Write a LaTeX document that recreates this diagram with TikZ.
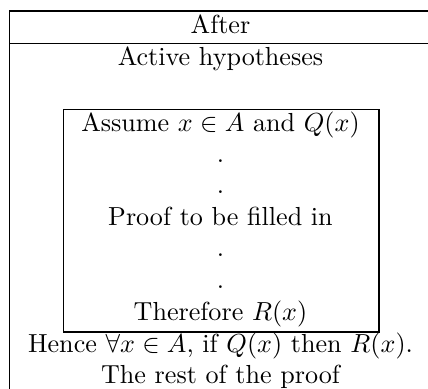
\documentclass[tikz,border=0pt]{standalone}
\begin{document}
\begin{tikzpicture}[x=0.3831pt,y=-0.3831pt,
  txt/.style={anchor=base,inner sep=0pt,font=\fontsize{10}{12}\selectfont},
  rule/.style={line width=0.4pt,draw=black}]
\useasboundingbox (0,0) rectangle (428,389);
% outer table
\draw[rule] (9.5,11) -- (430,11);
\draw[rule] (9.5,43.3) -- (430,43.3);
\draw[rule] (9.5,11) -- (9.5,392);
% inner box
\draw[rule] (63.3,109.3) rectangle (379,332);
% texts
\node[txt] (after) at (220.5,33.5) {After};
\node[txt] (active) at (220.5,65.5) {Active hypotheses};
\node[txt] (assume) at (220.5,131.7) {Assume $x\in A$ and $Q(x)$};
\node[txt] (d1) at (220.5,163) {.};
\node[txt] (d2) at (220.5,194) {.};
\node[txt] (proof) at (220.5,225.5) {Proof to be filled in};
\node[txt] (d3) at (220.5,257) {.};
\node[txt] (d4) at (220.5,288.5) {.};
\node[txt] (therefore) at (220.5,320.5) {Therefore $R(x)$};
\node[txt] (hence) at (220.5,352.5) {Hence $\forall x\in A$, if $Q(x)$ then $R(x)$.};
\node[txt] (rest) at (220.5,384) {The rest of the proof};
\end{tikzpicture}
\end{document}
